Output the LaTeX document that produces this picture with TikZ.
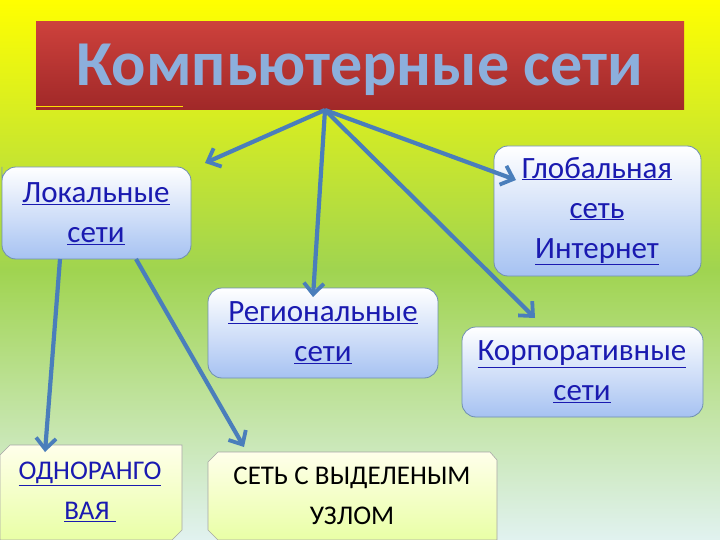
\documentclass[tikz,border=0pt]{standalone}
\usepackage{fontspec}
\setmainfont{Carlito}
\usetikzlibrary{arrows.meta}
\definecolor{lnk}{HTML}{1A1AB0}
\definecolor{arr}{HTML}{4A7EBB}
\definecolor{bord}{HTML}{6F8FB0}
\definecolor{boxbot}{HTML}{A6C2F2}
\tikzset{
  conn/.style={draw=arr,line width=4.2pt,-{Straight Barb[length=11pt,width=20pt,line width=3.8pt]}},
  bluebox/.style={top color=white,bottom color=boxbot,draw=bord,line width=0.8pt},
  ylbox/.style={top color=yellow!8,bottom color=green!25!yellow!35,draw=gray!70,line width=0.6pt},
  lbl/.style={align=center,text=lnk,font=\fontsize{31}{40}\selectfont},
}
\newcommand{\ul}[1]{\underline{#1}}
\begin{document}
\begin{tikzpicture}[x=1pt,y=-1pt]
\useasboundingbox (0,0) rectangle (720,540);
\shade[top color=yellow, bottom color={rgb,255:red,225;green,242;blue,240}, middle color={rgb,255:red,160;green,212;blue,80}] (0,0) rectangle (720,540);
% title
\shade[top color={rgb,255:red,205;green,65;blue,60}, bottom color={rgb,255:red,160;green,40;blue,40}] (36,22) rectangle (684,110);
\draw[yellow!80!orange,line width=0.8pt] (36,106) -- (183,106);
\node[text={rgb,255:red,140;green,175;blue,220},font=\fontsize{64}{64}\selectfont\bfseries] (title) at (360,70) {Компьютерные сети};
\coordinate (hub) at (325,110);
% boxes
\draw[bluebox,rounded corners=14] (2,181) -- (2,167) -- (191,167) -- (191,259) -- (2,259) -- cycle;
\node[lbl] (loc) at (96,214) {\ul{Локальные}\\\ul{сети}};
\draw[bluebox,rounded corners=14] (494,146) -- (701,146) -- (701,276) -- (494,276) -- cycle;
\node[lbl] (glob) at (597,211) {\ul{Глобальная}\\\ul{сеть}\\\ul{Интернет}};
\draw[bluebox,rounded corners=14] (208,288) -- (438,288) -- (438,378) -- (208,378) -- cycle;
\node[lbl] (reg) at (323,333) {\ul{Региональные}\\\ul{сети}};
\draw[bluebox,rounded corners=14] (462,327) -- (703,327) -- (703,417) -- (462,417) -- cycle;
\node[lbl] (corp) at (582,372) {\ul{Корпоративные}\\\ul{сети}};
\draw[ylbox] (10,445) -- (182,445) -- (182,530) -- (172,540) -- (0,540) -- (0,455) -- cycle;
\node[lbl,font=\fontsize{27}{40}\selectfont] (odn) at (90,492) {\ul{ОДНОРАНГО}\\\ul{ВАЯ\ }};
\draw[ylbox] (218,452) -- (490,452) -- (497,460) -- (497,540) -- (218,540) -- (208,530) -- (208,462) -- cycle;
\node[align=center,font=\fontsize{27}{40}\selectfont] (set) at (352,496) {СЕТЬ С ВЫДЕЛЕНЫМ\\УЗЛОМ};
% connectors
\coordinate (l1) at (60,259); \coordinate (l2) at (136,259);
\draw[conn] (hub) -- (205,163);
\draw[conn] (hub) -- (313,297);
\draw[conn] (hub) -- (516,180);
\draw[conn] (hub) -- (535,318);
\draw[conn] (l1) -- (45,452);
\draw[conn] (l2) -- (244,447);
\end{tikzpicture}
\end{document}
